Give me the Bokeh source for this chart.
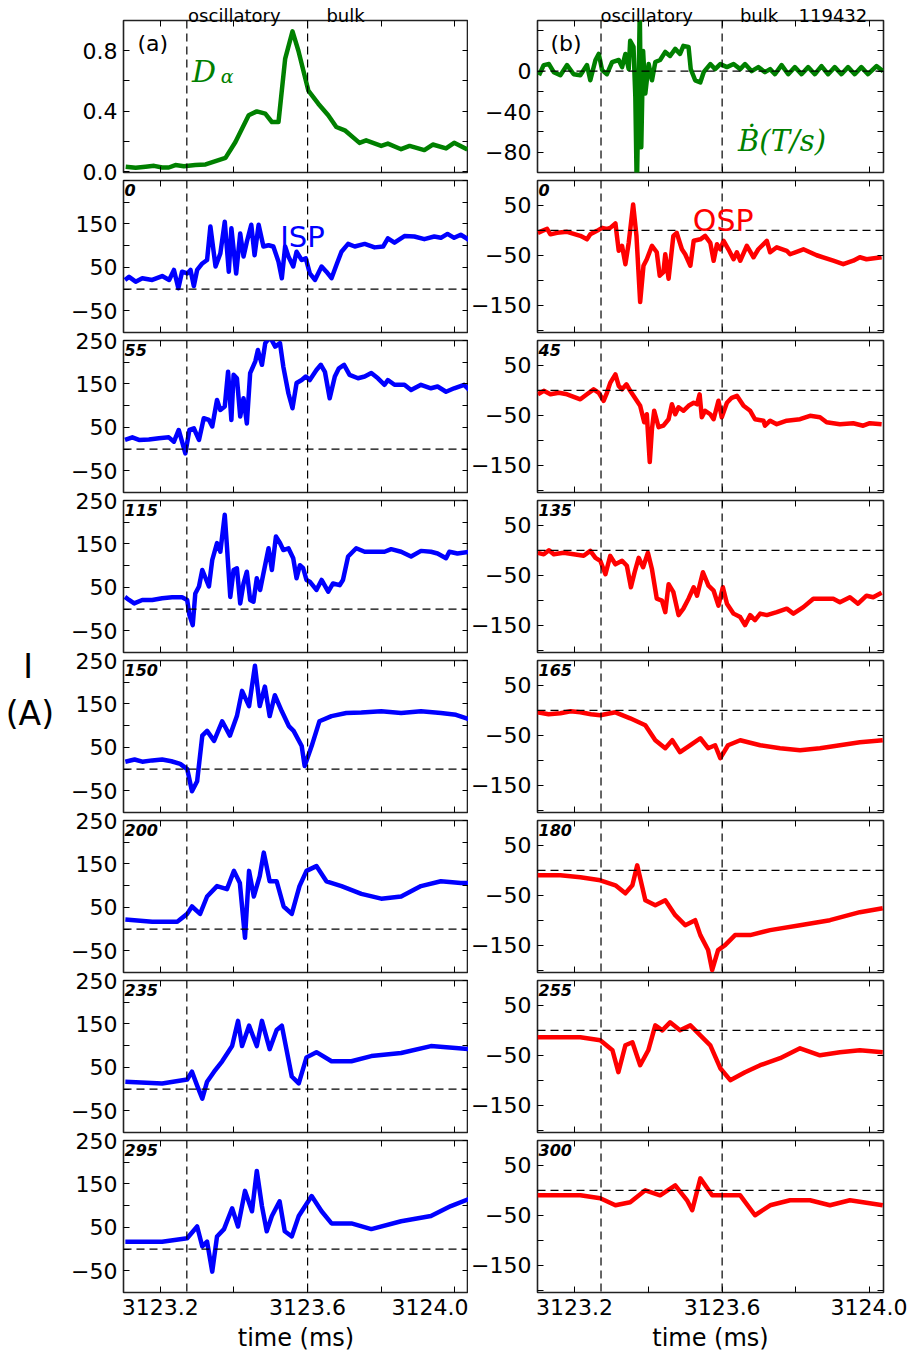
from bokeh.plotting import figure
from bokeh.models import Range1d, FixedTicker, LinearAxis, Span, Label
from bokeh.layouts import column, row
from bokeh.embed import file_html
from bokeh.resources import INLINE

# ---------------- data (time in ms) ----------------
t_da = [3123.106, 3123.133, 3123.160, 3123.183, 3123.205, 3123.223, 3123.241, 3123.264, 3123.295, 3123.323,
        3123.350, 3123.377, 3123.404, 3123.440, 3123.462, 3123.485, 3123.503, 3123.521, 3123.539, 3123.559,
        3123.575, 3123.602, 3123.629, 3123.656, 3123.678, 3123.701, 3123.741, 3123.759, 3123.800, 3123.818,
        3123.854, 3123.877, 3123.917, 3123.940, 3123.976, 3123.998, 3124.034]
d_alpha = [0.033, 0.026, 0.033, 0.039, 0.028, 0.028, 0.044, 0.037, 0.044, 0.048,
           0.070, 0.092, 0.197, 0.373, 0.399, 0.384, 0.329, 0.329, 0.746, 0.928,
           0.80, 0.537, 0.45, 0.373, 0.296, 0.274, 0.191, 0.208, 0.171, 0.186,
           0.149, 0.171, 0.143, 0.180, 0.154, 0.191, 0.147]

t_bdot = [3123.104, 3123.117, 3123.131, 3123.144, 3123.162, 3123.180, 3123.198, 3123.216, 3123.234, 3123.243,
          3123.257, 3123.266, 3123.275, 3123.288, 3123.302, 3123.320, 3123.329, 3123.338, 3123.347, 3123.351,
          3123.360, 3123.365, 3123.369, 3123.377, 3123.381, 3123.386, 3123.392, 3123.401, 3123.410, 3123.419,
          3123.432, 3123.446, 3123.459, 3123.473, 3123.486, 3123.495, 3123.509, 3123.515, 3123.527, 3123.541,
          3123.550, 3123.568, 3123.581, 3123.595, 3123.613, 3123.631, 3123.649, 3123.662, 3123.680, 3123.698,
          3123.716, 3123.730, 3123.743, 3123.761, 3123.779, 3123.797, 3123.815, 3123.833, 3123.851, 3123.869,
          3123.887, 3123.905, 3123.923, 3123.941, 3123.959, 3123.977, 3123.995, 3124.018, 3124.036]
bdot = [-4, 6, 7, -1, -4, 6, -3, -4, 6, -9,
        11, 17, 1, -3, 9, 11, 4, 17, 2, 30,
        24, -26, -120, 60, -75, 20, -22, 7, -9, 9,
        11, 19, 15, 22, 17, 25, 24, 2, -9, -11,
        -1, 7, 2, 7, 4, 7, 2, 7, 0, 4,
        -1, 2, -3, 6, -3, 4, -3, 4, -3, 5,
        -3, 4, -3, 4, -3, 4, -3, 5, 0]

t_isp_0 = [3123.104, 3123.115, 3123.133, 3123.151, 3123.178, 3123.205, 3123.224, 3123.237, 3123.249, 3123.259,
           3123.273, 3123.282, 3123.291, 3123.300, 3123.314, 3123.327, 3123.336, 3123.350, 3123.363, 3123.375,
           3123.386, 3123.393, 3123.406, 3123.417, 3123.426, 3123.435, 3123.447, 3123.456, 3123.467, 3123.480,
           3123.494, 3123.507, 3123.521, 3123.530, 3123.539, 3123.548, 3123.561, 3123.570, 3123.584, 3123.595,
           3123.606, 3123.620, 3123.638, 3123.651, 3123.665, 3123.678, 3123.692, 3123.710, 3123.728, 3123.755,
           3123.782, 3123.805, 3123.818, 3123.836, 3123.863, 3123.890, 3123.917, 3123.944, 3123.962, 3123.980,
           3123.998, 3124.016, 3124.039]
isp_0 = [21, 28, 17, 25, 21, 30, 21, 44, 2, 40,
         36, 44, 7, 44, 59, 67, 144, 52, 82, 155,
         40, 140, 36, 128, 75, 109, 148, 78, 148, 98,
         101, 98, 63, 25, 98, 75, 52, 86, 67, 71,
         36, 21, 52, 40, 25, 55, 86, 104, 98, 104,
         96, 98, 117, 107, 122, 121, 115, 121, 118, 127,
         118, 125, 113]

t_osp_0 = [3123.101, 3123.113, 3123.126, 3123.135, 3123.153, 3123.180, 3123.216, 3123.234, 3123.243, 3123.261,
           3123.275, 3123.288, 3123.297, 3123.311, 3123.320, 3123.329, 3123.338, 3123.347, 3123.359, 3123.368,
           3123.378, 3123.387, 3123.396, 3123.410, 3123.423, 3123.431, 3123.441, 3123.446, 3123.455, 3123.468,
           3123.477, 3123.491, 3123.500, 3123.514, 3123.523, 3123.541, 3123.554, 3123.568, 3123.577, 3123.586,
           3123.595, 3123.604, 3123.617, 3123.631, 3123.640, 3123.649, 3123.667, 3123.685, 3123.698, 3123.721,
           3123.730, 3123.748, 3123.775, 3123.784, 3123.820, 3123.856, 3123.901, 3123.928, 3123.955, 3123.973,
           3123.991, 3124.032]
osp_0 = [-5, -1, 3, -8, -5, -3, -11, -18, -8, -1,
         5, 3, 5, 14, -41, -31, -68, -25, 52, -11,
         -144, -71, -58, -31, -44, -91, -84, -48, -97, -11,
         -5, -38, -48, -71, -21, -18, -11, -25, -61, -28,
         -38, -21, -38, -58, -44, -61, -31, -54, -38, -21,
         -44, -34, -41, -48, -38, -50, -61, -68, -61, -54,
         -58, -54]

t_isp_55 = [3123.104, 3123.124, 3123.142, 3123.169, 3123.196, 3123.223, 3123.237, 3123.250, 3123.259, 3123.268,
            3123.279, 3123.291, 3123.305, 3123.318, 3123.332, 3123.341, 3123.354, 3123.363, 3123.375, 3123.384,
            3123.393, 3123.399, 3123.408, 3123.417, 3123.426, 3123.435, 3123.444, 3123.458, 3123.465, 3123.476,
            3123.485, 3123.498, 3123.512, 3123.525, 3123.534, 3123.548, 3123.559, 3123.570, 3123.584, 3123.595,
            3123.606, 3123.624, 3123.636, 3123.647, 3123.660, 3123.674, 3123.685, 3123.699, 3123.714, 3123.737,
            3123.755, 3123.773, 3123.791, 3123.809, 3123.818, 3123.836, 3123.863, 3123.881, 3123.908, 3123.935,
            3123.953, 3123.976, 3123.998, 3124.025, 3124.039]
isp_55 = [21, 27, 21, 22, 25, 27, 17, 44, 17, -10,
          44, 48, 21, 71, 67, 52, 113, 90, 98, 178,
          67, 171, 163, 75, 117, 59, 175, 202, 228, 194,
          244, 258, 236, 244, 190, 128, 94, 152, 159, 167,
          159, 182, 194, 178, 117, 167, 186, 194, 171, 163,
          167, 175, 163, 148, 159, 148, 148, 136, 148, 140,
          144, 132, 140, 148, 136]

t_osp_45 = [3123.101, 3123.117, 3123.135, 3123.158, 3123.180, 3123.216, 3123.234, 3123.252, 3123.266, 3123.279,
            3123.288, 3123.297, 3123.311, 3123.320, 3123.329, 3123.341, 3123.351, 3123.369, 3123.378, 3123.389,
            3123.396, 3123.404, 3123.410, 3123.416, 3123.428, 3123.441, 3123.455, 3123.464, 3123.473, 3123.482,
            3123.495, 3123.509, 3123.523, 3123.532, 3123.539, 3123.545, 3123.554, 3123.568, 3123.577, 3123.590,
            3123.599, 3123.613, 3123.626, 3123.640, 3123.658, 3123.676, 3123.689, 3123.712, 3123.716, 3123.730,
            3123.748, 3123.775, 3123.811, 3123.838, 3123.865, 3123.883, 3123.919, 3123.955, 3123.982, 3124.000,
            3124.032]
osp_45 = [-8, -1, -8, -5, -8, -18, -8, 2, -5, -21,
          -5, 15, 32, 9, 2, 12, -1, -21, -31, -64,
          -48, -144, -77, -41, -74, -71, -58, -28, -48, -34,
          -41, -31, -25, -28, -8, -54, -41, -48, -58, -21,
          -54, -25, -15, -11, -31, -41, -58, -61, -71, -61,
          -68, -61, -58, -51, -54, -64, -68, -66, -71, -66,
          -68]

t_isp_115 = [3123.104, 3123.115, 3123.129, 3123.151, 3123.178, 3123.205, 3123.232, 3123.259, 3123.273, 3123.279,
             3123.288, 3123.295, 3123.305, 3123.314, 3123.323, 3123.332, 3123.341, 3123.354, 3123.363, 3123.375,
             3123.381, 3123.390, 3123.399, 3123.408, 3123.417, 3123.426, 3123.435, 3123.444, 3123.453, 3123.462,
             3123.471, 3123.480, 3123.494, 3123.503, 3123.514, 3123.525, 3123.534, 3123.548, 3123.561, 3123.570,
             3123.579, 3123.588, 3123.597, 3123.606, 3123.624, 3123.638, 3123.656, 3123.669, 3123.687, 3123.696,
             3123.710, 3123.732, 3123.755, 3123.782, 3123.809, 3123.827, 3123.854, 3123.881, 3123.908, 3123.935,
             3123.953, 3123.976, 3123.985, 3124.007, 3124.039]
isp_115 = [28, 21, 13, 21, 21, 25, 27, 27, 21, -14,
           -37, 36, 52, 90, 71, 52, 113, 152, 132, 217,
           144, 28, 90, 94, 13, 59, 86, 21, 17, 71,
           44, 82, 140, 90, 167, 152, 136, 140, 117, 71,
           101, 94, 67, 63, 44, 67, 40, 59, 55, 67,
           121, 140, 132, 132, 132, 138, 132, 121, 134, 132,
           128, 117, 132, 128, 132]

t_osp_135 = [3123.101, 3123.117, 3123.131, 3123.144, 3123.171, 3123.198, 3123.225, 3123.243, 3123.257, 3123.270,
             3123.284, 3123.297, 3123.311, 3123.329, 3123.342, 3123.353, 3123.363, 3123.374, 3123.386, 3123.399,
             3123.410, 3123.423, 3123.437, 3123.446, 3123.455, 3123.468, 3123.482, 3123.495, 3123.509, 3123.523,
             3123.532, 3123.548, 3123.563, 3123.577, 3123.590, 3123.602, 3123.613, 3123.631, 3123.649, 3123.662,
             3123.676, 3123.689, 3123.703, 3123.721, 3123.748, 3123.775, 3123.793, 3123.820, 3123.847, 3123.874,
             3123.901, 3123.919, 3123.946, 3123.968, 3123.991, 3124.009, 3124.032]
osp_135 = [-5, -8, 0, -8, -5, -8, -11, -1, -15, -21,
           -48, -11, -28, -21, -31, -74, -44, -15, -34, -5,
           -38, -97, -101, -124, -68, -84, -130, -117, -97, -74,
           -91, -44, -71, -81, -111, -74, -107, -127, -134, -150,
           -130, -140, -127, -130, -124, -117, -127, -114, -97, -97,
           -97, -104, -94, -107, -91, -94, -85]

t_isp_150 = [3123.105, 3123.130, 3123.151, 3123.178, 3123.205, 3123.230, 3123.254, 3123.273, 3123.286, 3123.300,
             3123.314, 3123.327, 3123.346, 3123.368, 3123.389, 3123.408, 3123.422, 3123.441, 3123.457, 3123.470,
             3123.484, 3123.497, 3123.511, 3123.530, 3123.549, 3123.562, 3123.584, 3123.592, 3123.611, 3123.632,
             3123.665, 3123.705, 3123.746, 3123.800, 3123.854, 3123.908, 3123.962, 3124.003, 3124.038]
isp_150 = [17, 22, 17, 20, 22, 18, 12, 0, -51, -28,
           77, 88, 65, 110, 77, 122, 180, 145, 238, 145,
           190, 122, 170, 133, 99, 88, 53, 7, 53, 110,
           122, 129, 130, 133, 129, 133, 129, 125, 115]

t_osp_165 = [3123.100, 3123.130, 3123.162, 3123.190, 3123.216, 3123.245, 3123.270, 3123.311, 3123.351, 3123.392,
             3123.419, 3123.446, 3123.465, 3123.486, 3123.514, 3123.541, 3123.562, 3123.581, 3123.595, 3123.616,
             3123.649, 3123.703, 3123.757, 3123.811, 3123.865, 3123.919, 3123.973, 3124.035]
osp_165 = [-4, -8, -6, -2, -4, -8, -10, -4, -16, -30,
           -60, -76, -60, -84, -70, -56, -76, -70, -96, -70,
           -60, -70, -76, -80, -76, -70, -64, -60]

t_isp_200 = [3123.105, 3123.178, 3123.246, 3123.273, 3123.286, 3123.308, 3123.327, 3123.354, 3123.381, 3123.400,
             3123.416, 3123.430, 3123.441, 3123.454, 3123.470, 3123.481, 3123.497, 3123.516, 3123.535, 3123.557,
             3123.578, 3123.597, 3123.624, 3123.651, 3123.692, 3123.746, 3123.800, 3123.854, 3123.908, 3123.962,
             3124.016, 3124.038]
isp_200 = [22, 17, 17, 35, 52, 35, 75, 99, 92, 134,
           106, -20, 134, 75, 122, 176, 110, 110, 52, 35,
           99, 134, 145, 110, 99, 81, 70, 75, 99, 110,
           106, 106]

t_osp_180 = [3123.100, 3123.162, 3123.216, 3123.270, 3123.311, 3123.338, 3123.357, 3123.370, 3123.392, 3123.419,
             3123.446, 3123.473, 3123.500, 3123.527, 3123.541, 3123.562, 3123.573, 3123.589, 3123.608, 3123.635,
             3123.676, 3123.730, 3123.811, 3123.892, 3123.973, 3124.035]
osp_180 = [-10, -10, -14, -20, -30, -46, -30, 10, -60, -70,
           -60, -90, -110, -100, -130, -160, -200, -160, -150, -130,
           -130, -120, -110, -100, -84, -76]

t_isp_235 = [3123.105, 3123.205, 3123.273, 3123.286, 3123.300, 3123.314, 3123.327, 3123.346, 3123.368, 3123.395,
             3123.411, 3123.422, 3123.441, 3123.462, 3123.476, 3123.497, 3123.516, 3123.530, 3123.557, 3123.576,
             3123.597, 3123.624, 3123.665, 3123.719, 3123.773, 3123.854, 3123.935, 3124.038]
isp_235 = [17, 13, 22, 40, 8, -22, 17, 40, 64, 99,
           157, 99, 146, 99, 157, 92, 136, 146, 29, 13,
           73, 85, 64, 64, 76, 83, 99, 92]

t_osp_255 = [3123.100, 3123.216, 3123.270, 3123.303, 3123.319, 3123.338, 3123.357, 3123.378, 3123.400, 3123.419,
             3123.438, 3123.459, 3123.486, 3123.514, 3123.541, 3123.568, 3123.595, 3123.622, 3123.662, 3123.703,
             3123.757, 3123.811, 3123.865, 3123.919, 3123.973, 3124.035]
osp_255 = [-14, -14, -20, -40, -84, -30, -24, -70, -40, 10,
           0, 16, 0, 10, -10, -30, -76, -100, -84, -70,
           -56, -36, -50, -44, -40, -44]

t_isp_295 = [3123.105, 3123.205, 3123.273, 3123.300, 3123.314, 3123.327, 3123.341, 3123.354, 3123.373, 3123.395,
             3123.411, 3123.430, 3123.449, 3123.462, 3123.476, 3123.489, 3123.503, 3123.524, 3123.538, 3123.557,
             3123.576, 3123.611, 3123.638, 3123.665, 3123.719, 3123.773, 3123.854, 3123.935, 3123.989, 3124.038]
isp_295 = [17, 17, 25, 52, 6, 17, -52, 29, 46, 94,
           52, 134, 87, 180, 99, 41, 76, 110, 41, 29,
           76, 122, 87, 59, 59, 46, 64, 76, 99, 115]

t_osp_300 = [3123.100, 3123.216, 3123.270, 3123.311, 3123.351, 3123.392, 3123.432, 3123.473, 3123.505, 3123.519,
             3123.541, 3123.573, 3123.608, 3123.649, 3123.689, 3123.730, 3123.784, 3123.838, 3123.892, 3123.946,
             3124.035]
osp_300 = [-10, -10, -16, -30, -24, 0, -10, 10, -20, -40,
           24, -10, -10, -10, -50, -30, -20, -20, -30, -20,
           -30]

left_tags = ["0", "55", "115", "150", "200", "235", "295"]
right_tags = ["0", "45", "135", "165", "180", "255", "300"]
left_series = [(t_isp_0, isp_0), (t_isp_55, isp_55), (t_isp_115, isp_115), (t_isp_150, isp_150),
               (t_isp_200, isp_200), (t_isp_235, isp_235), (t_isp_295, isp_295)]
right_series = [(t_osp_0, osp_0), (t_osp_45, osp_45), (t_osp_135, osp_135), (t_osp_165, osp_165),
                (t_osp_180, osp_180), (t_osp_255, osp_255), (t_osp_300, osp_300)]

T_OSC = 3123.272
T_BULK = 3123.6
X_RANGE = (3123.10, 3124.037)
X_MAJOR = [3123.2, 3123.6, 3124.0]
X_MINOR = [3123.4, 3123.8]
X_LABELS = {3123.2: "3123.2", 3123.6: "3123.6", 3124.0: "3124.0"}
L_RANGE = (-100, 250)
R_RANGE = (-205, 100)

FONT = "DejaVu Sans"
BLUE, RED, GREEN = "#0000ff", "#ff0000", "#008000"
FRAME_H = 152
LW = 4.5
EXT = 14  # canvas overlap between stacked rows, so edge tick labels are not cut


def setup_axis(ax, major, minor, overrides=None):
    if overrides is None:
        ax.ticker = FixedTicker(ticks=[], minor_ticks=sorted(major + minor))
    else:
        ax.ticker = FixedTicker(ticks=major, minor_ticks=minor)
        ax.major_label_overrides = overrides
        ax.major_label_text_font = FONT
        ax.major_label_text_font_size = "22px"
        ax.major_label_text_color = "#000000"
        ax.major_label_standoff = 6
    ax.axis_line_color = None
    ax.major_tick_in = 6
    ax.major_tick_out = 0
    ax.minor_tick_in = 6
    ax.minor_tick_out = 0
    ax.major_tick_line_color = "#000000"
    ax.minor_tick_line_color = "#000000"
    ax.major_tick_line_width = 1
    ax.minor_tick_line_width = 1


def make_panel(col, r, y_range, y_major, y_minor, y_over, zero_line=True):
    fw = 345 if col == 0 else 346
    ext_top = 0 if r == 0 else EXT
    ext_bot = 0 if r == 7 else EXT
    p = figure(frame_width=fw, frame_height=FRAME_H,
               x_range=Range1d(*X_RANGE), y_range=Range1d(*y_range),
               output_backend="svg", toolbar_location=None,
               min_border_left=123 if col == 0 else 69,
               min_border_right=0 if col == 0 else 24,
               min_border_top=(20 if r == 0 else 0) + ext_top,
               min_border_bottom=(66 if r == 7 else 8) + ext_bot)
    p.outline_line_color = "#222222"
    p.outline_line_width = 1.6
    p.xgrid.visible = False
    p.ygrid.visible = False
    p.background_fill_color = "white"
    p.border_fill_color = None
    bottom_ax = p.below[0]
    setup_axis(bottom_ax, X_MAJOR, X_MINOR, X_LABELS if r == 7 else None)
    setup_axis(p.left[0], y_major, y_minor, y_over)
    top_ax = LinearAxis()
    setup_axis(top_ax, X_MAJOR, X_MINOR)
    p.add_layout(top_ax, "above")
    right_ax = LinearAxis()
    setup_axis(right_ax, y_major, y_minor)
    p.add_layout(right_ax, "right")
    for loc in (T_OSC, T_BULK):
        p.add_layout(Span(location=loc, dimension="height", line_color="black",
                          line_width=1.2, line_dash="8 5"))
    if zero_line:
        p.add_layout(Span(location=0, dimension="width", line_color="black",
                          line_width=1.2, line_dash="8 5"))
    if r == 7:
        bottom_ax.axis_label = "time (ms)"
        bottom_ax.axis_label_text_font = FONT
        bottom_ax.axis_label_text_font_size = "24px"
        bottom_ax.axis_label_text_font_style = "normal"
        bottom_ax.axis_label_text_color = "#000000"
        bottom_ax.axis_label_standoff = 6
    return p


def add_top_words(p, positions, words):
    ax = LinearAxis(ticker=FixedTicker(ticks=positions, minor_ticks=[]),
                    major_label_overrides=dict(zip(positions, words)),
                    major_tick_in=0, major_tick_out=0, axis_line_color=None,
                    major_label_standoff=-5, major_label_text_font=FONT,
                    major_label_text_font_size="18px", major_label_text_color="#000000")
    p.add_layout(ax, "above")


def add_label(p, x, y, text, size, color="black", style="normal", font=FONT, align="left"):
    p.add_layout(Label(x=x, y=y, x_units="data", y_units="data", text=text,
                       text_font=font, text_font_size=size, text_color=color,
                       text_font_style=style, text_align=align, text_baseline="alphabetic"))


left_figs, right_figs = [], []

# ---- top-left: D alpha ----
pa = make_panel(0, 0, (-0.005, 1.0), [0.0, 0.4, 0.8], [0.2, 0.6],
                {0: "0.0", 0.4: "0.4", 0.8: "0.8"}, zero_line=False)
pa.line(t_da, d_alpha, line_width=LW, line_color=GREEN, line_join="round")
add_top_words(pa, [3123.401, 3123.703], ["oscillatory", "bulk"])
add_label(pa, 3123.138, 0.845, "(a)", "22px")
add_label(pa, 3123.286, 0.663, "D", "30px", GREEN, "italic", "DejaVu Serif")
add_label(pa, 3123.364, 0.63, "\u03b1", "19px", GREEN, "italic", "DejaVu Serif")
left_figs.append(pa)

# ---- top-right: B dot ----
pb = make_panel(1, 0, (-100, 50), [0, -40, -80], [40, 20, -20, -60],
                {0: "0", -40: "\u221240", -80: "\u221280"})
pb.line(t_bdot, bdot, line_width=LW, line_color=GREEN, line_join="round")
add_top_words(pb, [3123.396, 3123.700, 3123.900], ["oscillatory", "bulk", "119432"])
add_label(pb, 3123.135, 27.5, "(b)", "22px")
add_label(pb, 3123.643, -68.5, "\u1e02(T/s)", "29px", GREEN, "italic", "DejaVu Serif")
right_figs.append(pb)

L_OVER = {250: "250", 150: "150", 50: "50", -50: "\u221250"}
R_OVER = {50: "50", -50: "\u221250", -150: "\u2212150"}

for i in range(7):
    r = i + 1
    lmaj = [150, 50, -50] if r == 1 else [250, 150, 50, -50]
    lmin = [250, 200, 100, 0] if r == 1 else [200, 100, 0]
    pl = make_panel(0, r, L_RANGE, lmaj, lmin, L_OVER)
    tl, vl = left_series[i]
    pl.line(tl, vl, line_width=LW, line_color=BLUE, line_join="round")
    add_label(pl, 3123.103, 229, left_tags[i], "16px", style="bold italic")
    pr = make_panel(1, r, R_RANGE, [50, -50, -150], [0, -100, -200], R_OVER)
    tr, vr = right_series[i]
    pr.line(tr, vr, line_width=LW, line_color=RED, line_join="round")
    add_label(pr, 3123.103, 81, right_tags[i], "16px", style="bold italic")
    if r == 1:
        add_label(pl, 3123.586, 121, "ISP", "29px", BLUE, align="center")
        add_label(pr, 3123.603, 20, "OSP", "30px", RED, align="center")
    if r == 4:
        yax = pl.left[0]
        yax.axis_label = "I\u00a0\u00a0\n(A)\n\n"
        yax.axis_label_orientation = "horizontal"
        yax.axis_label_text_font = FONT
        yax.axis_label_text_font_size = "33px"
        yax.axis_label_text_font_style = "normal"
        yax.axis_label_text_color = "#000000"
        yax.axis_label_standoff = 14
    left_figs.append(pl)
    right_figs.append(pr)

rows = []
for k in range(8):
    mt = 0 if k == 0 else -EXT
    mb = 0 if k == 7 else -EXT
    rows.append(row(left_figs[k], right_figs[k], margin=(mt, 0, mb, 0)))

layout = column(*rows)

open("out.html", "w").write(file_html(layout, INLINE, "plot"))
